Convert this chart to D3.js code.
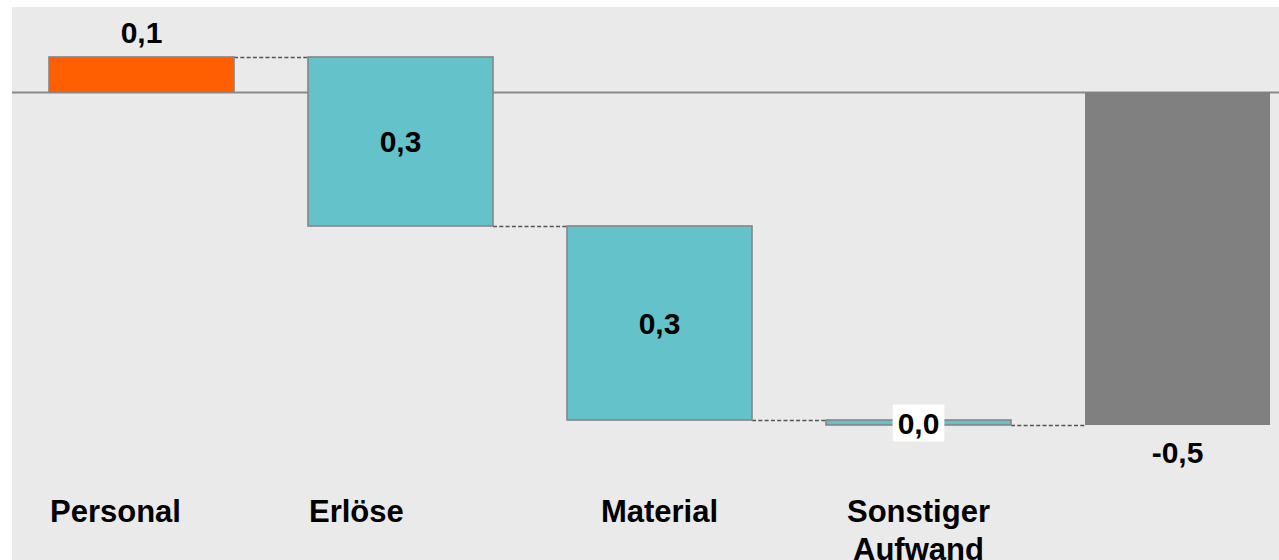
<!DOCTYPE html>
<html><head><meta charset="utf-8">
<script src="https://cdn.jsdelivr.net/npm/d3@7"></script>
<style>body{margin:0;background:#fff;}svg{display:block;}text{font-family:"Liberation Sans",Arial,sans-serif;font-weight:bold;}</style>
</head><body><div id="chart"></div>
<script>
const categories = ["Personal", "Erlöse", "Material", "Sonstiger Aufwand", "Total"];
const deltas = [0.0526, -0.2538, -0.2913, -0.0075];
const valueLabels = ["0,1", "0,3", "0,3", "0,0", "-0,5"];
const categoryLines = [["Personal"], ["Erlöse"], ["Material"], ["Sonstiger", "Aufwand"], []];
const labelAnchors = ["start", "start", "middle", "middle", "middle"];

const W = 1279, H = 560;
const svg = d3.select("#chart").append("svg").attr("width", W).attr("height", H);
svg.append("rect").attr("x", 12).attr("y", 7).attr("width", W - 12).attr("height", H - 7).attr("fill", "#eaeaea");

const x = d3.scaleBand().domain(categories).range([11.5, 1307.5]).paddingInner(0.2857).paddingOuter(0.1448);
const y = d3.scaleLinear().domain([0, -0.5]).range([92, 425]);

let cum = 0;
const bars = deltas.map((d, i) => { const s = cum; cum += d; return {cat: categories[i], start: s, end: cum, total: false, color: i === 0 ? "#ff5f00" : "#64c2ca"}; });
bars.push({cat: "Total", start: 0, end: cum, total: true, color: "#808080"});

// zero line
svg.append("line").attr("x1", 12).attr("x2", W).attr("y1", y(0) + 0.5).attr("y2", y(0) + 0.5).attr("stroke", "#8a8a8a").attr("stroke-width", 2);

// connectors
for (let i = 0; i < bars.length - 1; i++) {
  const yy = Math.round(y(bars[i].end)) + 0.5;
  svg.append("line")
    .attr("x1", x(bars[i].cat) + x.bandwidth()).attr("x2", x(bars[i + 1].cat))
    .attr("y1", yy).attr("y2", yy)
    .attr("stroke", "#555").attr("stroke-width", 1.3).attr("stroke-dasharray", "4,2.3");
}

svg.selectAll("rect.bar").data(bars).enter().append("rect").attr("class", "bar")
  .attr("x", d => x(d.cat)).attr("width", x.bandwidth())
  .attr("y", d => y(Math.max(d.start, d.end)))
  .attr("height", d => Math.abs(y(d.start) - y(d.end)))
  .attr("fill", d => d.color)
  .attr("stroke", d => d.total ? "none" : "#868686").attr("stroke-width", 1.6);

// value labels
bars.forEach((d, i) => {
  const cx = x(d.cat) + x.bandwidth() / 2;
  const top = y(Math.max(d.start, d.end)), bot = y(Math.min(d.start, d.end));
  let ty;
  if (i === 0) ty = top - 14;
  else if (d.total) ty = bot + 38;
  else ty = (top + bot) / 2 + 11;
  const t = svg.append("text").attr("x", cx).attr("y", ty).attr("text-anchor", "middle")
    .attr("font-size", 30).attr("fill", "#000").text(valueLabels[i]);
  if (!d.total && i > 0 && bot - top < 40) {
    const bb = t.node().getBBox();
    svg.insert("rect", () => t.node()).attr("x", bb.x - 5).attr("y", bb.y - 2).attr("width", bb.width + 10).attr("height", bb.height + 4).attr("fill", "#fff");
  }
});

// category labels
bars.forEach((d, i) => {
  const anchor = labelAnchors[i];
  const tx = anchor === "start" ? x(d.cat) + 1 : x(d.cat) + x.bandwidth() / 2;
  const t = svg.append("text").attr("text-anchor", anchor).attr("font-size", 31).attr("fill", "#000");
  categoryLines[i].forEach((line, j) => {
    t.append("tspan").attr("x", tx).attr("y", 522 + j * 38).text(line);
  });
});
</script></body></html>
